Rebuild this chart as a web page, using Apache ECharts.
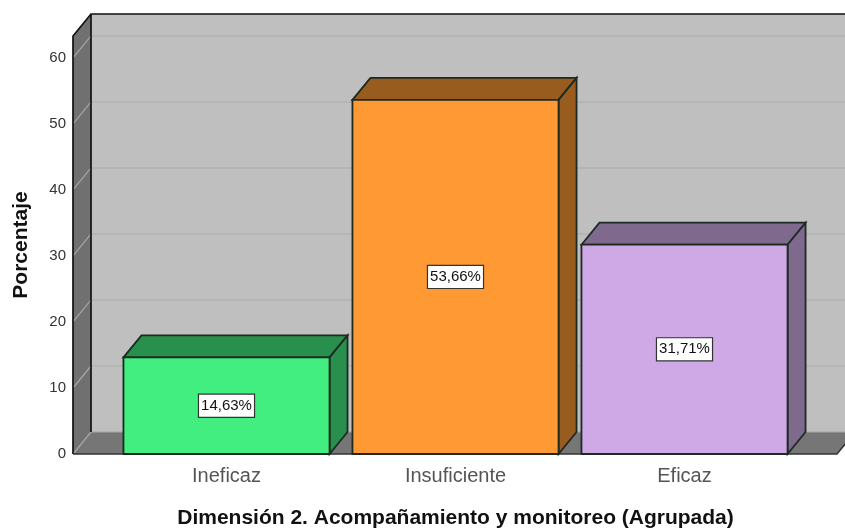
<!DOCTYPE html>
<html><head><meta charset="utf-8">
<style>html,body{margin:0;padding:0;background:#fff}#c{width:845px;height:528px}</style>
<script src="https://cdn.jsdelivr.net/npm/echarts@6/dist/echarts.min.js"></script>
</head><body><div id="c"></div>
<script>
const categories = ['Ineficaz', 'Insuficiente', 'Eficaz'];
const percentages = [14.63, 53.66, 31.71];
const yTicks = [0, 10, 20, 30, 40, 50, 60];
const faceColors = ['#43EE80', '#FF9933', '#CEA9E5'];
const sideColors = ['#288F4D', '#995C1F', '#7F698D'];
const xTitle = 'Dimensión 2. Acompañamiento y monitoreo (Agrupada)';
const yTitle = 'Porcentaje';

const depthX = 18, depthY = 22, wallOffset = 39, rightOverflow = 38;
const chart = echarts.init(document.getElementById('c'), null, {renderer: 'canvas'});

function poly(points, fill, stroke, lw) {
  return {type: 'polygon', shape: {points}, style: {fill, stroke, lineWidth: lw}};
}
function line(points, stroke, lw) {
  return {type: 'polyline', shape: {points}, style: {fill: null, stroke, lineWidth: lw}};
}

function renderWalls(params, api) {
  const cs = params.coordSys;
  const x0 = cs.x - wallOffset;
  const x1 = cs.x + cs.width + rightOverflow;
  const yb = api.coord([0, 0])[1];
  const yt = cs.y;
  const dx = depthX, dy = depthY;
  const kids = [];
  kids.push(poly([[x0 + dx, yt - dy], [x1 + dx, yt - dy], [x1 + dx, yb - dy], [x0 + dx, yb - dy]], '#BFBFBF', null, 0));
  kids.push(poly([[x0, yt], [x0 + dx, yt - dy], [x0 + dx, yb - dy], [x0, yb]], '#707070', null, 0));
  kids.push(poly([[x0, yb], [x0 + dx, yb - dy], [x1 + dx, yb - dy], [x1, yb]], '#767676', null, 0));
  yTicks.forEach(function (t) {
    const y = api.coord([0, t])[1];
    if (t > 0) kids.push(line([[x0 + dx, y - dy], [x1 + dx, y - dy]], '#B2B2B2', 1.5));
    kids.push(line([[x0, y], [x0 + dx, y - dy]], '#A6A6A6', 1.2));
  });
  kids.push(line([[x0 + dx, yb - dy], [x1 + dx, yb - dy]], '#A6A6A6', 1.2));
  kids.push(line([[x0, yb], [x0, yt], [x0 + dx, yt - dy], [x1 + dx, yt - dy]], '#111', 1.7));
  kids.push(line([[x0 + dx, yt - dy], [x0 + dx, yb - dy]], '#111', 1.7));
  kids.push(line([[x0, yb], [x1, yb], [x1 + dx, yb - dy]], '#333', 1.5));
  return {type: 'group', children: kids};
}

function renderBar(params, api) {
  const i = params.dataIndex;
  const v = api.value(1);
  const c = api.coord([api.value(0), v]);
  const base = api.coord([api.value(0), 0]);
  const w = api.size([1, 0])[0] * 0.9;
  const l = c[0] - w / 2, r = c[0] + w / 2, t = c[1], b = base[1];
  const dx = depthX, dy = depthY, edge = '#1c2a22';
  return {type: 'group', children: [
    poly([[l, t], [l + dx, t - dy], [r + dx, t - dy], [r, t]], sideColors[i], edge, 1.8),
    poly([[r, t], [r + dx, t - dy], [r + dx, b - dy], [r, b]], sideColors[i], edge, 1.8),
    poly([[l, t], [r, t], [r, b], [l, b]], faceColors[i], edge, 1.8),
    {type: 'text', x: c[0], y: (t + b) / 2, style: {
      text: v.toFixed(2).replace('.', ',') + '%',
      fontFamily: 'Liberation Sans', fontSize: 15, fill: '#111',
      align: 'center', verticalAlign: 'middle',
      backgroundColor: '#fff', borderColor: '#333', borderWidth: 1.2,
      padding: [4, 2, 3, 2]
    }}
  ]};
}

chart.setOption({
  animation: false,
  grid: {left: 112, width: 687, top: 36, height: 418, containLabel: false, outerBoundsMode: 'none'},
  xAxis: {
    type: 'category', data: categories,
    name: xTitle, nameLocation: 'middle', nameGap: 54,
    nameTextStyle: {fontFamily: 'Liberation Sans', fontWeight: 'bold', fontSize: 21, color: '#111'},
    axisLine: {show: false}, axisTick: {show: false},
    axisLabel: {fontFamily: 'Liberation Sans', fontSize: 20, color: '#555', margin: 12}
  },
  yAxis: {
    type: 'value', min: 0, max: 63.33, interval: 10, offset: wallOffset,
    name: yTitle, nameLocation: 'middle', nameGap: 41, nameRotate: 90,
    nameTextStyle: {fontFamily: 'Liberation Sans', fontWeight: 'bold', fontSize: 21, color: '#111'},
    axisLine: {show: false}, axisTick: {show: false}, splitLine: {show: false},
    axisLabel: {showMaxLabel: false, fontFamily: 'Liberation Sans', fontSize: 15, color: '#333', margin: 7, padding: [2, 0, 0, 0]}
  },
  series: [
    {type: 'custom', silent: true, z: 1, renderItem: renderWalls, data: [[0, 0]], encode: {x: 0, y: 1}},
    {type: 'custom', silent: true, z: 2, renderItem: renderBar,
     data: categories.map(function (c, i) { return [i, percentages[i]]; }), encode: {x: 0, y: 1}}
  ]
});
</script></body></html>
